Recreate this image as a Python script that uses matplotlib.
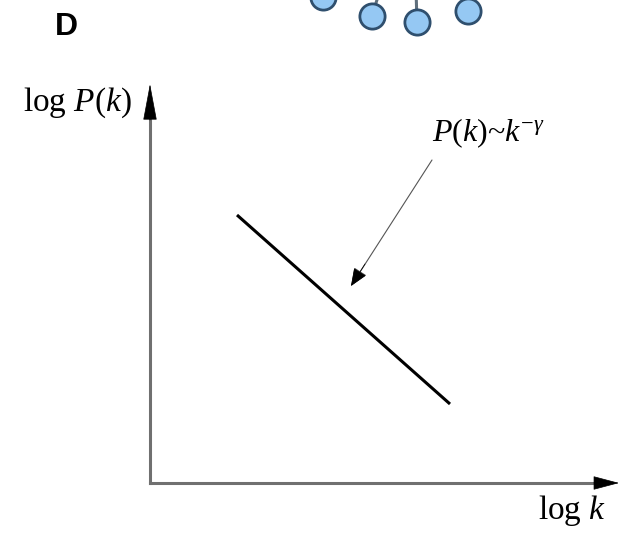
import matplotlib.pyplot as plt

plt.rcParams['font.family'] = ['Liberation Serif', 'DejaVu Serif']
plt.rcParams['mathtext.fontset'] = 'custom'
plt.rcParams['mathtext.rm'] = 'Liberation Serif'
plt.rcParams['mathtext.it'] = 'Liberation Serif:italic'
plt.rcParams['mathtext.bf'] = 'Liberation Serif:bold'

# schematic power-law line (pixel-like canvas coords)
line_x = [237, 450]
line_y = [215, 404]

# nodes of the network peeking in at the top
node_x = [323, 372, 417, 468]
node_y = [-3, 16, 22, 11]
edge_end_x = [318, 380, 416, 464]
edge_end_y = [-20, -10, -10, -10]

origin = (150, 483)
y_tip = (150, 84)
x_tip = (619, 483)

fig = plt.figure(figsize=(6.23, 5.41), dpi=100)
ax = fig.add_axes([0, 0, 1, 1])
ax.set_xlim(0, 623)
ax.set_ylim(541, 0)
ax.axis('off')

# network fragment
for nx, ny, ex, ey in zip(node_x, node_y, edge_end_x, edge_end_y):
    ax.plot([nx, ex], [ny, ey], color='#5f6f7c', lw=2.2, zorder=1)
ax.scatter(node_x, node_y, s=330, color='#95c8f3', edgecolor='#2f4f6e',
           linewidth=2, zorder=2, clip_on=False)

# axes with arrows
ax.plot([origin[0], origin[0]], [origin[1], y_tip[1] + 30], color='#707070', lw=2.2)
ax.plot([origin[0], x_tip[0] - 20], [origin[1], origin[1]], color='#707070', lw=2.2)
ax.annotate('', xy=y_tip, xytext=(150, 120),
            arrowprops=dict(arrowstyle='-|>,head_length=2.4,head_width=0.45',
                            color='black', lw=0.5, shrinkA=0, shrinkB=0))
ax.annotate('', xy=x_tip, xytext=(594, 483),
            arrowprops=dict(arrowstyle='-|>,head_length=1.7,head_width=0.45',
                            color='black', lw=0.5, shrinkA=0, shrinkB=0))

# data line
ax.plot(line_x, line_y, color='black', lw=2.2, solid_capstyle='butt')

# annotation arrow
ax.annotate('', xy=(351, 286), xytext=(432, 160),
            arrowprops=dict(arrowstyle='-|>,head_length=1.1,head_width=0.45',
                            color='#555555', lw=0.8, shrinkA=0, shrinkB=0))
ax.annotate('', xy=(351, 286), xytext=(365, 264),
            arrowprops=dict(arrowstyle='-|>,head_length=1.1,head_width=0.45',
                            color='black', lw=0.5, shrinkA=0, shrinkB=0))

ax.text(488, 133, r'$\mathit{P(k)}$~$\mathit{k}^{\mathit{-\gamma}}$', fontsize=23,
        ha='center', va='center')
ax.text(77, 103, r'log $\mathit{P(k)}$', fontsize=24, ha='center', va='center')
ax.text(572, 511, r'log $\mathit{k}$', fontsize=24, ha='center', va='center')
ax.text(66, 27, 'D', fontsize=23, fontweight='bold', family='Liberation Sans',
        ha='center', va='center')

fig.savefig('out.png', dpi=100)
